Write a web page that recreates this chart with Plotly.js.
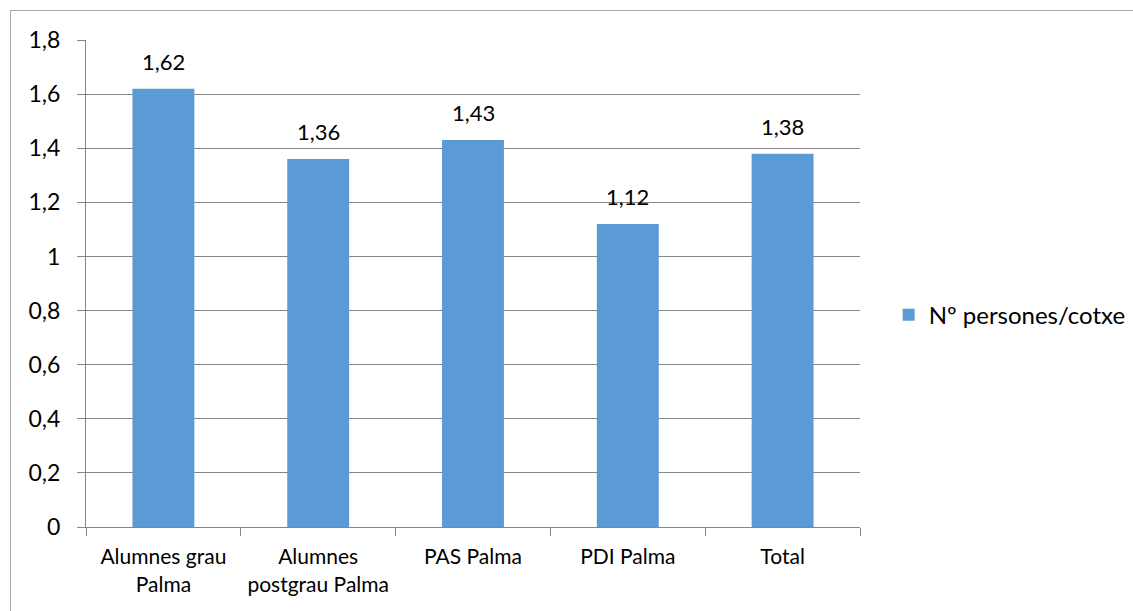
<!DOCTYPE html>
<html>
<head>
<meta charset="utf-8">
<script src="https://cdn.plot.ly/plotly-3.0.1.min.js"></script>
<style>
  html, body { margin: 0; padding: 0; background: #fff; overflow: hidden; }
  #wrap { position: relative; width: 1133px; height: 611px; }
  #frame { position: absolute; left: 10px; top: 10px; width: 1140px; height: 620px; border: 1px solid #a6a6a6; box-sizing: border-box; pointer-events: none; }
  #chart { position: absolute; left: 0; top: 0; width: 1133px; height: 611px; }
</style>
</head>
<body>
<div id="wrap">
  <div id="chart"></div>
  <div id="frame"></div>
</div>
<script>
const categories = ["Alumnes grau<br>Palma", "Alumnes<br>postgrau Palma", "PAS Palma", "PDI Palma", "Total"];
const values = [1.62, 1.36, 1.43, 1.12, 1.38];
const seriesName = "Nº persones/cotxe";
const yTickVals = [0, 0.2, 0.4, 0.6, 0.8, 1, 1.2, 1.4, 1.6, 1.8];
const yTickText = ["0", "0,2", "0,4", "0,6", "0,8", "1", "1,2", "1,4", "1,6", "1,8"];

const FONT = "Lato, 'Open Sans', sans-serif";
const fmt = v => v.toFixed(2).replace(".", ",");

const trace = {
  type: "bar",
  x: categories,
  y: values,
  name: seriesName,
  marker: { color: "#5B9BD5" },
  showlegend: true,
  hoverinfo: "none"
};

const annotations = categories.map((c, i) => ({
  x: c, y: values[i], xref: "x", yref: "y",
  text: fmt(values[i]),
  showarrow: false,
  yanchor: "bottom",
  yshift: 12,
  font: { family: FONT, size: 22, color: "#000" }
}));

const layout = {
  width: 1133, height: 611,
  margin: { l: 86, r: 273, t: 40, b: 84, autoexpand: false },
  paper_bgcolor: "#fff", plot_bgcolor: "#fff",
  separators: ",.",
  font: { family: FONT, color: "#000" },
  bargap: 0.6,
  xaxis: {
    type: "category",
    showline: true, linecolor: "#868686", linewidth: 1,
    ticks: "outside", ticklen: 8, tickcolor: "#868686",
    tickson: "boundaries",
    ticklabelstandoff: 11,
    tickfont: { family: FONT, size: 21, color: "#000" },
    showgrid: false,
    zeroline: false,
    automargin: false
  },
  yaxis: {
    range: [0, 1.8],
    tickvals: yTickVals, ticktext: yTickText,
    showgrid: true, gridcolor: "#868686", gridwidth: 1,
    showline: true, linecolor: "#868686", linewidth: 1,
    ticks: "outside", ticklen: 8, tickcolor: "#868686",
    ticklabelstandoff: 12,
    tickfont: { family: FONT, size: 23, color: "#000" },
    zeroline: false,
    automargin: false
  },
  legend: {
    x: 1.037, xanchor: "left", y: 0.435, yanchor: "middle",
    font: { family: FONT, size: 24, color: "#000" },
    itemwidth: 30
  },
  annotations: annotations
};

Plotly.newPlot("chart", [trace], layout, { displayModeBar: false, staticPlot: true });
</script>
</body>
</html>
